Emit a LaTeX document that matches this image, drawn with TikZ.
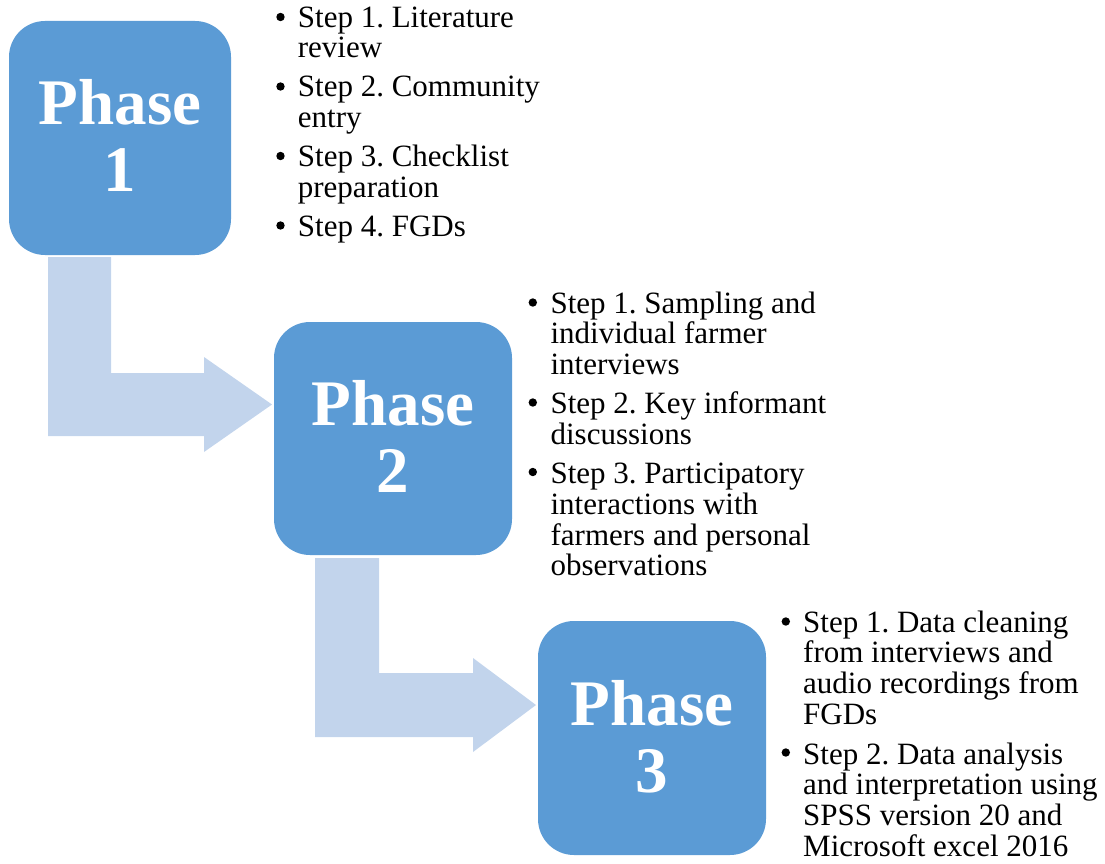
\documentclass[tikz,border=0pt]{standalone}
\usepackage{fontspec}
\setmainfont{Liberation Serif}
\frenchspacing
\definecolor{boxblue}{HTML}{5B9BD5}
\definecolor{arrowblue}{HTML}{C2D4EC}
\tikzset{
  phasebox/.style={fill=boxblue, draw=none, rounded corners=36pt, inner sep=0pt},
  phasetext/.style={text=white, font=\fontsize{65}{67}\selectfont\bfseries, align=center, anchor=north, inner sep=0pt},
  bentarrow/.style={fill=arrowblue, draw=none},
  steplist/.style={anchor=base west, inner sep=0pt, font=\fontsize{31}{30.5}\selectfont},
  bulletdot/.style={fill=black}
}
\begin{document}
\begin{tikzpicture}[x=1pt,y=-1pt]
\useasboundingbox (0,0) rectangle (1105,864);
% bent arrows
\fill[bentarrow] (48,257) -- (111,257) -- (111,373) -- (204,373) -- (204,357) -- (272,404.5) -- (204,452) -- (204,436) -- (48,436) -- cycle;
\fill[bentarrow] (315,558) -- (379,558) -- (379,673) -- (473,673) -- (473,658) -- (536,705) -- (473,752) -- (473,737) -- (315,737) -- cycle;
% phase boxes
\node[phasebox, minimum width=222pt, minimum height=234pt] (p1) at (120,138) {};
\node[phasebox, minimum width=238pt, minimum height=233pt] (p2) at (393,438.5) {};
\node[phasebox, minimum width=228pt, minimum height=234pt] (p3) at (652,738) {};
\node[phasetext] (t1) at (120,79) {Phase\\1};
\node[phasetext] (t2) at (393,380) {Phase\\2};
\node[phasetext] (t3) at (652,680) {Phase\\3};
% step lists
\node[steplist] (l1) at (297.7,27.5) {\begin{tabular}[t]{@{}l@{}}
Step 1. Literature\\
review\\[8.5pt]
Step 2. Community\\
entry\\[8.5pt]
Step 3. Checklist\\
preparation\\[8.5pt]
Step 4. FGDs
\end{tabular}};
\node[steplist] (l2) at (550.4,313) {\begin{tabular}[t]{@{}l@{}}
Step 1. Sampling and\\
individual farmer\\
interviews\\[8.5pt]
Step 2. Key informant\\
discussions\\[8.5pt]
Step 3. Participatory\\
interactions with\\
farmers and personal\\
observations
\end{tabular}};
\node[steplist] (l3) at (803,632) {\begin{tabular}[t]{@{}l@{}}
Step 1. Data cleaning\\
from interviews and\\
audio recordings from\\
FGDs\\[9pt]
Step 2. Data analysis\\
and interpretation using\\
SPSS version 20 and\\
Microsoft excel 2016
\end{tabular}};
% bullets
\foreach \by in {17,86.5,156,225.5} \fill[bulletdot] (280.5,\by) circle[radius=4.2pt];
\foreach \by in {302.5,402.5,472} \fill[bulletdot] (532.8,\by) circle[radius=4.2pt];
\foreach \by in {621.5,752.5} \fill[bulletdot] (785.8,\by) circle[radius=4.2pt];
\end{tikzpicture}
\end{document}
